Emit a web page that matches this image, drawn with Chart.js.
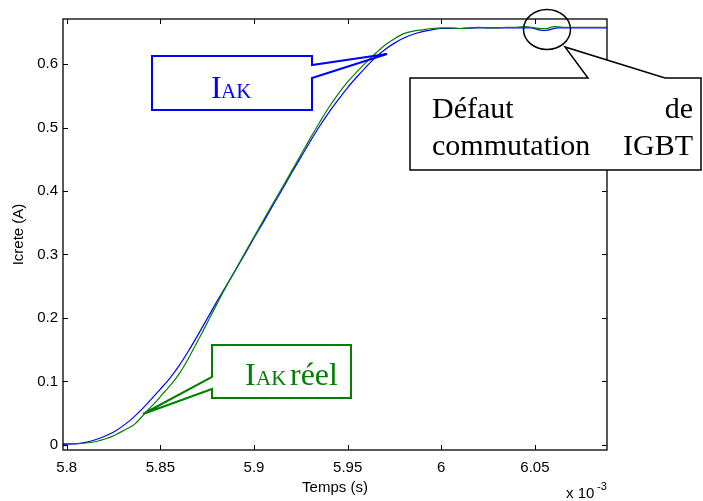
<!DOCTYPE html>
<html>
<head>
<meta charset="utf-8">
<script src="https://cdn.jsdelivr.net/npm/chart.js@4.4.1/dist/chart.umd.min.js"></script>
<style>
  html, body { margin: 0; padding: 0; background: #fff; }
  canvas { display: block; }
</style>
</head>
<body>
<canvas id="chart" width="703" height="501"></canvas>
<script>
// time axis in units of 1e-3 s
const tIak = [5.798, 5.806, 5.810, 5.814, 5.818, 5.822, 5.826, 5.830, 5.834, 5.838,
  5.842, 5.846, 5.850, 5.855, 5.860, 5.865, 5.870, 5.875, 5.880, 5.885,
  5.890, 5.895, 5.900, 5.905, 5.910, 5.915, 5.920, 5.925, 5.930, 5.935,
  5.940, 5.945, 5.950, 5.955, 5.960, 5.965, 5.970, 5.975, 5.980, 5.985,
  5.990, 5.995, 6.000, 6.010, 6.020, 6.030, 6.040, 6.048, 6.052, 6.056,
  6.059, 6.062, 6.070, 6.080, 6.0885];
const iak = [0.001, 0.002, 0.004, 0.007, 0.011, 0.016, 0.022, 0.030, 0.039, 0.050,
  0.062, 0.075, 0.088, 0.105, 0.125, 0.148, 0.173, 0.199, 0.225, 0.250,
  0.275, 0.300, 0.326, 0.351, 0.377, 0.402, 0.428, 0.453, 0.478, 0.502,
  0.524, 0.544, 0.563, 0.580, 0.596, 0.611, 0.623, 0.633, 0.641, 0.647,
  0.651, 0.654, 0.656, 0.656, 0.657, 0.657, 0.657, 0.657, 0.654, 0.653,
  0.655, 0.657, 0.657, 0.657, 0.657];

const tReel = [5.798, 5.805, 5.810, 5.815, 5.820, 5.824, 5.828, 5.832, 5.836, 5.840,
  5.844, 5.848, 5.852, 5.856, 5.860, 5.864, 5.868, 5.872, 5.876, 5.880,
  5.885, 5.890, 5.895, 5.900, 5.905, 5.910, 5.915, 5.920, 5.925, 5.930,
  5.935, 5.940, 5.945, 5.950, 5.955, 5.960, 5.965, 5.970, 5.975, 5.980,
  5.985, 5.990, 5.995, 6.000, 6.005, 6.010, 6.015, 6.020, 6.025, 6.030,
  6.035, 6.040, 6.045, 6.050, 6.053, 6.056, 6.060, 6.065, 6.070, 6.080, 6.0885];
const iakReel = [0.002, 0.002, 0.003, 0.005, 0.009, 0.013, 0.019, 0.025, 0.032, 0.044,
  0.057, 0.069, 0.083, 0.096, 0.112, 0.131, 0.153, 0.175, 0.198, 0.221,
  0.249, 0.275, 0.302, 0.328, 0.354, 0.380, 0.405, 0.431, 0.457, 0.483,
  0.508, 0.532, 0.553, 0.572, 0.588, 0.603, 0.617, 0.630, 0.640, 0.648,
  0.652, 0.654, 0.656, 0.657, 0.657, 0.656, 0.657, 0.658, 0.657, 0.657,
  0.658, 0.658, 0.659, 0.657, 0.656, 0.656, 0.659, 0.658, 0.658, 0.658, 0.658];

const xTicks = [5.8, 5.85, 5.9, 5.95, 6, 6.05];
const yTicks = [0, 0.1, 0.2, 0.3, 0.4, 0.5, 0.6];

const sans = "'Liberation Sans', Arial, sans-serif";
const serif = "'Liberation Serif', 'Times New Roman', serif";

function pts(ts, vs) {
  return ts.map((t, i) => ({ x: t, y: vs[i] }));
}

function poly(ctx, p, color, width, fill) {
  ctx.beginPath();
  ctx.moveTo(p[0][0], p[0][1]);
  for (let i = 1; i < p.length; i++) ctx.lineTo(p[i][0], p[i][1]);
  ctx.closePath();
  if (fill) { ctx.fillStyle = '#fff'; ctx.fill(); }
  ctx.strokeStyle = color;
  ctx.lineWidth = width;
  ctx.lineJoin = 'miter';
  ctx.stroke();
}

// matlab style box, inward ticks on all sides, callouts
const matlabBox = {
  id: 'matlabBox',
  afterDraw(chart) {
    const ctx = chart.ctx;
    const a = chart.chartArea;
    const sx = chart.scales.x, sy = chart.scales.y;
    ctx.save();
    ctx.strokeStyle = '#000';
    ctx.lineWidth = 1.3;
    ctx.strokeRect(a.left, a.top, a.right - a.left, a.bottom - a.top);

    ctx.lineWidth = 1;
    ctx.beginPath();
    xTicks.forEach(v => {
      const px = Math.round(sx.getPixelForValue(v)) + 0.5;
      ctx.moveTo(px, a.bottom); ctx.lineTo(px, a.bottom - 5);
      ctx.moveTo(px, a.top); ctx.lineTo(px, a.top + 5);
    });
    yTicks.forEach(v => {
      const py = Math.round(sy.getPixelForValue(v)) + 0.5;
      ctx.moveTo(a.left, py); ctx.lineTo(a.left + 5, py);
      ctx.moveTo(a.right, py); ctx.lineTo(a.right - 5, py);
    });
    ctx.stroke();

    // x 10^-3
    ctx.fillStyle = '#000';
    ctx.textBaseline = 'alphabetic';
    ctx.textAlign = 'left';
    ctx.font = '15px ' + sans;
    ctx.fillText('x 10', 566, 498);
    ctx.font = '11px ' + sans;
    ctx.fillText('-3', 597, 490);

    // I_AK callout (blue)
    poly(ctx, [[152, 56], [312, 56], [312, 65], [387, 54], [312, 78], [312, 110], [152, 110]], '#0000ff', 2, false);
    ctx.fillStyle = '#0000ff';
    ctx.font = '32px ' + serif;
    ctx.fillText('I', 211, 98);
    ctx.font = '21px ' + serif;
    ctx.fillText('AK', 221, 98);

    // I_AK reel callout (green)
    poly(ctx, [[212, 345], [351, 345], [351, 398], [212, 398], [212, 389], [143, 414], [212, 377]], '#008000', 2, false);
    ctx.fillStyle = '#008000';
    ctx.font = '32px ' + serif;
    ctx.fillText('I', 245, 385);
    ctx.font = '21px ' + serif;
    ctx.fillText('AK', 256, 385);
    ctx.font = '32px ' + serif;
    ctx.fillText('réel', 290, 385);

    // defect circle + note
    ctx.beginPath();
    ctx.ellipse(547, 29.5, 23.5, 20, 0, 0, Math.PI * 2);
    ctx.strokeStyle = '#000';
    ctx.lineWidth = 1.5;
    ctx.stroke();
    poly(ctx, [[410, 78], [588, 78], [565, 47], [665, 78], [701, 78], [701, 170], [410, 170]], '#000', 1.5, true);
    ctx.fillStyle = '#000';
    ctx.font = '30px ' + serif;
    ctx.textAlign = 'left';
    ctx.fillText('Défaut', 432, 118);
    ctx.fillText('commutation', 432, 155);
    ctx.textAlign = 'right';
    ctx.fillText('de', 693, 118);
    ctx.fillText('IGBT', 693, 155);
    ctx.restore();
  }
};

new Chart(document.getElementById('chart'), {
  type: 'line',
  data: {
    datasets: [
      {
        label: 'IAK réel',
        data: pts(tReel, iakReel),
        borderColor: '#008000',
        borderWidth: 1.2,
        pointRadius: 0,
        cubicInterpolationMode: 'monotone',
        order: 0
      },
      {
        label: 'IAK',
        data: pts(tIak, iak),
        borderColor: '#0000ff',
        borderWidth: 1.2,
        pointRadius: 0,
        cubicInterpolationMode: 'monotone',
        order: 1
      }
    ]
  },
  options: {
    responsive: false,
    devicePixelRatio: 1,
    animation: false,
    layout: { padding: { top: 19, right: 96, left: 0, bottom: 0 } },
    plugins: {
      legend: { display: false },
      tooltip: { enabled: false }
    },
    scales: {
      x: {
        type: 'linear',
        min: 5.798,
        max: 6.0885,
        afterFit: s => { s.height = 51; },
        afterBuildTicks: s => { s.ticks = xTicks.map(v => ({ value: v })); },
        grid: { display: false, drawTicks: false },
        border: { display: false },
        ticks: {
          padding: 9,
          maxRotation: 0,
          autoSkip: false,
          color: '#000',
          font: { family: sans, size: 15 },
          callback: v => String(v)
        },
        title: {
          display: true,
          text: 'Temps (s)',
          color: '#000',
          font: { family: sans, size: 15 },
          padding: { top: 0, bottom: 4 }
        }
      },
      y: {
        min: -0.008,
        max: 0.671,
        afterFit: s => { s.width = 63; },
        afterBuildTicks: s => { s.ticks = yTicks.map(v => ({ value: v })); },
        grid: { display: false, drawTicks: false },
        border: { display: false },
        ticks: {
          padding: 5,
          autoSkip: false,
          color: '#000',
          font: { family: sans, size: 15 },
          callback: v => String(v)
        },
        title: {
          display: true,
          text: 'Icrete (A)',
          color: '#000',
          font: { family: sans, size: 15 },
          padding: { top: 9.5, bottom: 0 }
        }
      }
    }
  },
  plugins: [matlabBox]
});
</script>
</body>
</html>
